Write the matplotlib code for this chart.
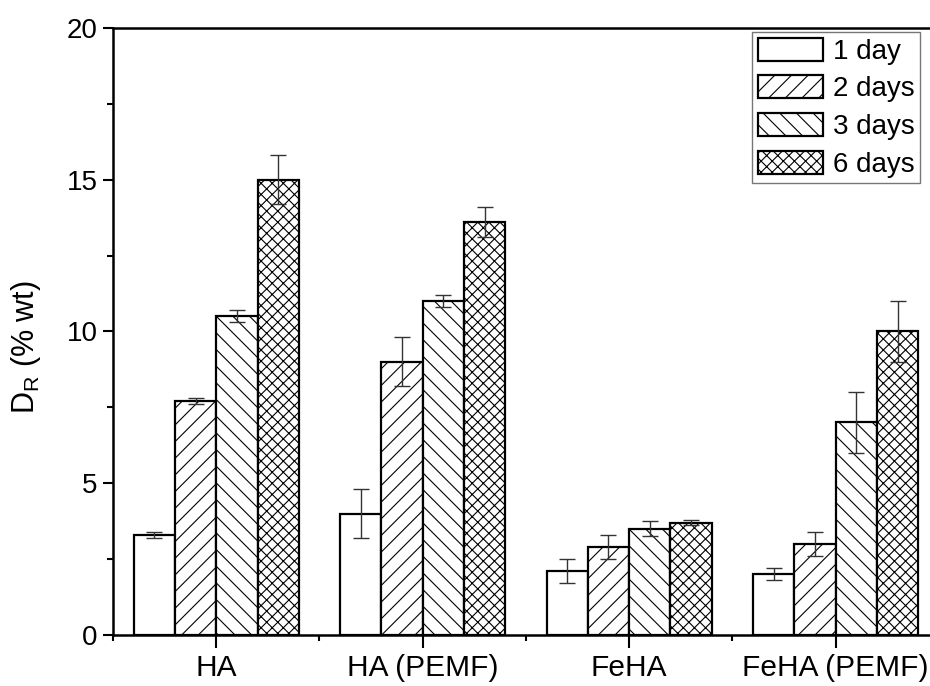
import numpy as np
import matplotlib
matplotlib.use("Agg")
import matplotlib.pyplot as plt
from matplotlib.ticker import MultipleLocator

plt.rcParams['font.family'] = ['Liberation Sans', 'DejaVu Sans']
plt.rcParams['mathtext.default'] = 'regular'
plt.rcParams['hatch.linewidth'] = 0.8

groups = ["HA", "HA (PEMF)", "FeHA", "FeHA (PEMF)"]
series = ["1 day", "2 days", "3 days", "6 days"]
hatches = ["", "//", "\\\\", "xxx"]

# values per series, one entry per group
day1 = [3.3, 4.0, 2.1, 2.0]
day2 = [7.7, 9.0, 2.9, 3.0]
day3 = [10.5, 11.0, 3.5, 7.0]
day6 = [15.0, 13.6, 3.7, 10.0]
err1 = [0.1, 0.8, 0.4, 0.2]
err2 = [0.1, 0.8, 0.4, 0.4]
err3 = [0.2, 0.2, 0.25, 1.0]
err6 = [0.8, 0.5, 0.08, 1.0]

vals = [day1, day2, day3, day6]
errs = [err1, err2, err3, err6]

fig = plt.figure(figsize=(9.3, 6.86), dpi=100)
ax = fig.add_axes([0.1215, 0.0744, 0.888, 0.885])

x = np.arange(1, len(groups) + 1)
w = 0.2
for i in range(4):
    pos = x + (i - 1.5) * w
    ax.bar(pos, vals[i], w, color="white", edgecolor="black", linewidth=1.6,
           hatch=hatches[i], label=series[i], zorder=2)
    ax.errorbar(pos, vals[i], yerr=errs[i], fmt="none", ecolor="#333333",
                elinewidth=1.0, capsize=6, capthick=1.0, zorder=3)

ax.set_xlim(0.5, 4.5)
ax.set_ylim(0, 20)
ax.set_xticks(x)
ax.set_xticklabels(groups, fontsize=21.5)
ax.xaxis.set_minor_locator(MultipleLocator(1, offset=0.5))
ax.yaxis.set_major_locator(MultipleLocator(5))
ax.yaxis.set_minor_locator(MultipleLocator(2.5))
ax.tick_params(axis="both", which="major", direction="out", length=7, width=1.5,
               labelsize=20, pad=4)
ax.tick_params(axis="both", which="minor", direction="out", length=4, width=1.5)
ax.tick_params(axis="x", which="major", length=9, pad=5, labelsize=21.5)
for s in ax.spines.values():
    s.set_linewidth(1.8)

ax.set_ylabel("D$_R$ (% wt)", fontsize=22)
ax.yaxis.set_label_coords(-0.085, 0.474)

h, l = ax.get_legend_handles_labels()
leg = fig.legend(h, l, loc="upper left", bbox_to_anchor=(752 / 930, 1 - 32 / 686),
                 fontsize=20, frameon=True, fancybox=False, edgecolor="#555555",
                 handlelength=2.35, handleheight=0.9, handletextpad=0.35,
                 labelspacing=0.38, borderpad=0.2, borderaxespad=0)
leg.get_frame().set_linewidth(1.0)

fig.savefig("out.png", dpi=100)
